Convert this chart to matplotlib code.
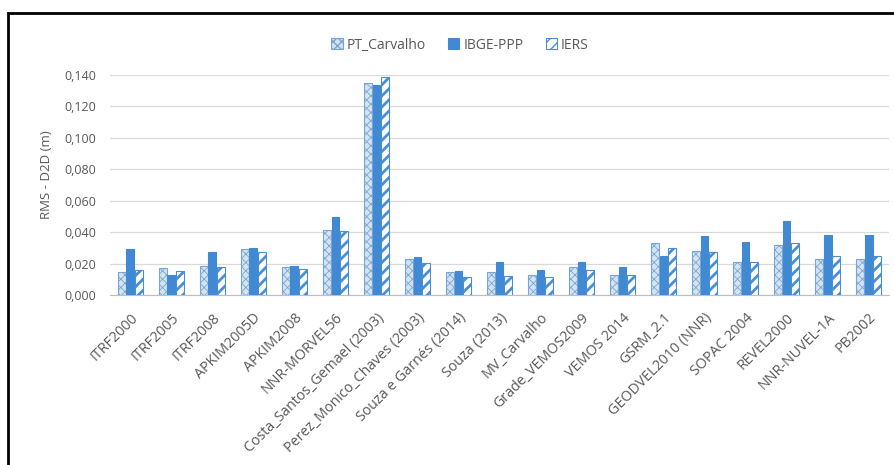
import matplotlib.pyplot as plt
import matplotlib.patches as mpatches
import numpy as np

# Modelos de velocidade avaliados
modelos = ['ITRF2000', 'ITRF2005', 'ITRF2008', 'APKIM2005D', 'APKIM2008',
           'NNR-MORVEL56', 'Costa_Santos_Gemael (2003)', 'Perez_Monico_Chaves (2003)',
           'Souza e Garnés (2014)', 'Souza (2013)', 'MV_Carvalho', 'Grade_VEMOS2009',
           'VEMOS 2014', 'GSRM_2.1', 'GEODVEL2010 (NNR)', 'SOPAC 2004', 'REVEL2000',
           'NNR-NUVEL-1A', 'PB2002']

# RMS D2D (m) de cada solucao
pt_carvalho = [0.0149, 0.0172, 0.0185, 0.0291, 0.0179, 0.0415, 0.1351, 0.0226,
               0.0145, 0.0145, 0.0130, 0.0179, 0.0130, 0.0328, 0.0281, 0.0211,
               0.0319, 0.0232, 0.0232]
ibge_ppp = [0.0294, 0.0130, 0.0274, 0.0300, 0.0185, 0.0498, 0.1334, 0.0240,
            0.0153, 0.0213, 0.0157, 0.0213, 0.0179, 0.0245, 0.0377, 0.0336,
            0.0472, 0.0383, 0.0383]
iers = [0.0157, 0.0151, 0.0179, 0.0272, 0.0166, 0.0409, 0.1390, 0.0202,
        0.0117, 0.0123, 0.0115, 0.0157, 0.0130, 0.0300, 0.0272, 0.0211,
        0.0334, 0.0247, 0.0245]

plt.rcParams['font.family'] = ['Open Sans', 'DejaVu Sans']
cinza = '#595959'

fig = plt.figure(figsize=(8.95, 4.65), dpi=100)
ax = fig.add_axes([0.1229, 0.3656, 0.8704, 0.4731])

x = np.arange(len(modelos))
w = 0.195
step = 0.215

with plt.rc_context({'hatch.linewidth': 0.6}):
    b1 = ax.bar(x - step, pt_carvalho, w, facecolor='#d3e3f3', edgecolor='#7aa6d4',
                hatch='xxxx', linewidth=0.8, label='PT_Carvalho', zorder=3)
b2 = ax.bar(x, ibge_ppp, w, color='#4189d2', edgecolor='#4189d2', linewidth=0.8,
            label='IBGE-PPP', zorder=3)
with plt.rc_context({'hatch.linewidth': 2.0}):
    b3 = ax.bar(x + step, iers, w, facecolor='white', edgecolor='#4a8fd4',
                hatch='///', linewidth=0.8, label='IERS', zorder=3)

ax.set_xlim(-0.5, len(modelos) - 0.5)
ax.set_ylim(0, 0.14)
ax.set_yticks(np.arange(0, 0.141, 0.02))
ax.set_yticklabels([('%.3f' % v).replace('.', ',') for v in np.arange(0, 0.141, 0.02)],
                   fontsize=9, color=cinza)
ax.set_xticks(x)
ax.set_xticklabels(modelos, rotation=45, ha='right', rotation_mode='anchor',
                   fontsize=10.3, color=cinza)
ax.tick_params(axis='y', length=0, pad=10)
ax.tick_params(axis='x', length=0, pad=11)
ax.grid(axis='y', color='#d9d9d9', linewidth=0.9, zorder=0)
for s in ['top', 'right', 'left']:
    ax.spines[s].set_visible(False)
ax.spines['bottom'].set_color('#bfbfbf')
ax.set_ylabel('RMS - D2D (m)', fontsize=9.5, color=cinza)
ax.yaxis.set_label_coords(-0.073, 0.545)

leg = fig.legend(handles=[b1, b2, b3], loc='center', bbox_to_anchor=(0.514, 0.903),
                 ncol=3, frameon=False, fontsize=10, handlelength=0.8,
                 handleheight=0.8, handletextpad=0.3, columnspacing=1.6)
for t in leg.get_texts():
    t.set_color(cinza)

# moldura da figura
fig.patches.append(mpatches.Rectangle((8 / 895, -0.05), 1.0, 1 - 13 / 465 + 0.05,
                                      transform=fig.transFigure, fill=False,
                                      edgecolor='black', linewidth=2))

fig.savefig('out.png', dpi=100)
